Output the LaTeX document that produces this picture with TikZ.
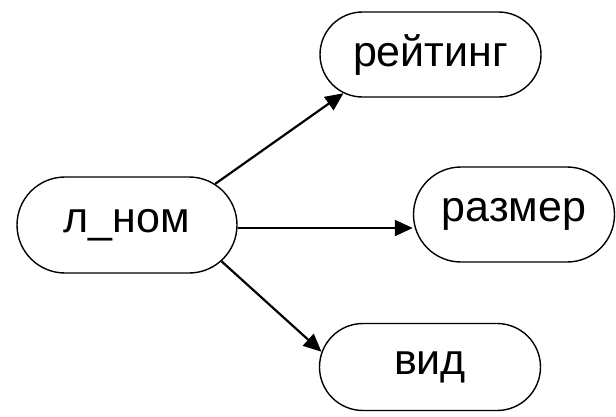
\documentclass[tikz,border=0pt]{standalone}
\usepackage{fontspec}
\setmainfont{Liberation Sans}
\usetikzlibrary{shapes.misc,arrows.meta}
\begin{document}
\begin{tikzpicture}[x=1pt,y=-1pt,
  term/.style={draw, line width=1.4pt, rounded rectangle, inner sep=0pt,
    font=\fontsize{43}{50}\selectfont},
  link/.style={line width=2.2pt, -{Triangle[length=18pt,width=16pt]}}]
  \useasboundingbox (0,0) rectangle (616,416);
  \node[term, minimum width=220pt, minimum height=96pt] (lnom)   at (127,225)   {л\_ном};
  \node[term, minimum width=221pt, minimum height=85pt] (rating) at (430.5,54.5) {рейтинг};
  \node[term, minimum width=201pt, minimum height=95pt] (size)   at (514,214.5) {размер};
  \node[term, minimum width=221pt, minimum height=87pt] (kind)   at (430,367)   {вид};
  \draw[link] (lnom.25) -- (rating.204);
  \draw[link] ([yshift=-3pt]lnom.east) -- ([yshift=-3pt]lnom.east -| size.west);
  \draw[link] (lnom.339) -- (kind.172);
\end{tikzpicture}
\end{document}
